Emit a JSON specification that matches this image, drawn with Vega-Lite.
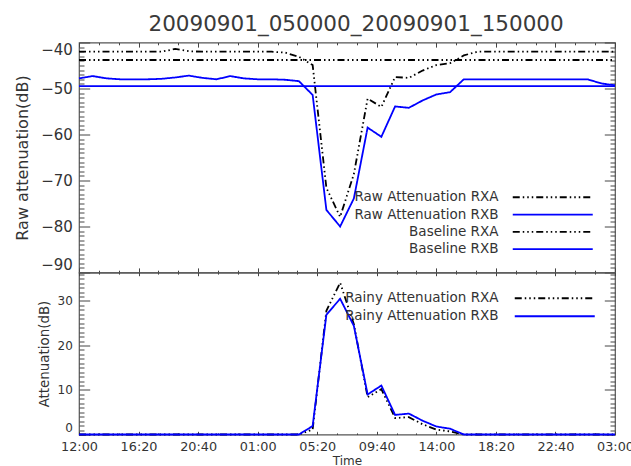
{
  "$schema": "https://vega.github.io/schema/vega-lite/v6.json",
  "background": "white",
  "padding": {"left": 14, "top": 13.5, "right": 10, "bottom": 0},
  "title": {"text": "20090901_050000_20090901_150000", "fontSize": 21.5, "font": "DejaVu Sans", "fontWeight": "normal", "color": "#3a3a3a", "anchor": "middle", "offset": 4, "dx": 32},
  "config": {
    "view": {"stroke": "#555", "strokeWidth": 1.2},
    "font": "DejaVu Sans",
    "axis": {"labelFont": "DejaVu Sans", "titleFont": "DejaVu Sans", "titleFontWeight": "normal", "labelColor": "#333", "titleColor": "#333", "domain": false, "grid": false, "tickColor": "#444", "tickWidth": 1, "labelOverlap": false},
    "legend": {"labelFont": "DejaVu Sans", "labelColor": "#333", "padding": 0}
  },
  "datasets": {
    "d": [
      {"t": "2009-08-31T12:00:00", "rawA": -42.0, "rawB": -47.8, "baseA": -43.8, "baseB": -49.5, "rainA": 0, "rainB": 0},
      {"t": "2009-08-31T13:00:00", "rawA": -42.0, "rawB": -47.3, "baseA": -43.8, "baseB": -49.5, "rainA": 0, "rainB": 0},
      {"t": "2009-08-31T14:00:00", "rawA": -42.0, "rawB": -47.8, "baseA": -43.8, "baseB": -49.5, "rainA": 0, "rainB": 0},
      {"t": "2009-08-31T15:00:00", "rawA": -42.0, "rawB": -48.0, "baseA": -43.8, "baseB": -49.5, "rainA": 0, "rainB": 0},
      {"t": "2009-08-31T16:00:00", "rawA": -42.0, "rawB": -48.0, "baseA": -43.8, "baseB": -49.5, "rainA": 0, "rainB": 0},
      {"t": "2009-08-31T17:00:00", "rawA": -42.0, "rawB": -48.0, "baseA": -43.8, "baseB": -49.5, "rainA": 0, "rainB": 0},
      {"t": "2009-08-31T18:00:00", "rawA": -42.0, "rawB": -47.9, "baseA": -43.8, "baseB": -49.5, "rainA": 0, "rainB": 0},
      {"t": "2009-08-31T19:00:00", "rawA": -41.4, "rawB": -47.6, "baseA": -43.8, "baseB": -49.5, "rainA": 0, "rainB": 0},
      {"t": "2009-08-31T20:00:00", "rawA": -41.9, "rawB": -47.2, "baseA": -43.8, "baseB": -49.5, "rainA": 0, "rainB": 0},
      {"t": "2009-08-31T21:00:00", "rawA": -42.0, "rawB": -47.7, "baseA": -43.8, "baseB": -49.5, "rainA": 0, "rainB": 0},
      {"t": "2009-08-31T22:00:00", "rawA": -42.0, "rawB": -48.0, "baseA": -43.8, "baseB": -49.5, "rainA": 0, "rainB": 0},
      {"t": "2009-08-31T23:00:00", "rawA": -42.0, "rawB": -47.3, "baseA": -43.8, "baseB": -49.5, "rainA": 0, "rainB": 0},
      {"t": "2009-09-01T00:00:00", "rawA": -42.0, "rawB": -47.8, "baseA": -43.8, "baseB": -49.5, "rainA": 0, "rainB": 0},
      {"t": "2009-09-01T01:00:00", "rawA": -42.0, "rawB": -48.0, "baseA": -43.8, "baseB": -49.5, "rainA": 0, "rainB": 0},
      {"t": "2009-09-01T02:00:00", "rawA": -42.0, "rawB": -48.0, "baseA": -43.8, "baseB": -49.5, "rainA": 0, "rainB": 0},
      {"t": "2009-09-01T03:00:00", "rawA": -42.2, "rawB": -48.1, "baseA": -43.8, "baseB": -49.5, "rainA": 0, "rainB": 0},
      {"t": "2009-09-01T04:00:00", "rawA": -43.1, "rawB": -48.4, "baseA": -43.8, "baseB": -49.5, "rainA": 0, "rainB": 0},
      {"t": "2009-09-01T05:00:00", "rawA": -44.9, "rawB": -51.4, "baseA": -43.8, "baseB": -49.5, "rainA": 1.1, "rainB": 1.9},
      {"t": "2009-09-01T06:00:00", "rawA": -71.6, "rawB": -76.4, "baseA": -43.8, "baseB": -49.5, "rainA": 27.8, "rainB": 26.9},
      {"t": "2009-09-01T07:00:00", "rawA": -77.9, "rawB": -80.0, "baseA": -43.8, "baseB": -49.5, "rainA": 34.1, "rainB": 30.5},
      {"t": "2009-09-01T08:00:00", "rawA": -68.6, "rawB": -73.9, "baseA": -43.8, "baseB": -49.5, "rainA": 24.8, "rainB": 24.4},
      {"t": "2009-09-01T09:00:00", "rawA": -52.2, "rawB": -58.5, "baseA": -43.8, "baseB": -49.5, "rainA": 8.4, "rainB": 9.0},
      {"t": "2009-09-01T10:00:00", "rawA": -54.0, "rawB": -60.5, "baseA": -43.8, "baseB": -49.5, "rainA": 10.2, "rainB": 11.0},
      {"t": "2009-09-01T11:00:00", "rawA": -47.5, "rawB": -53.9, "baseA": -43.8, "baseB": -49.5, "rainA": 3.7, "rainB": 4.4},
      {"t": "2009-09-01T12:00:00", "rawA": -47.7, "rawB": -54.2, "baseA": -43.8, "baseB": -49.5, "rainA": 3.9, "rainB": 4.7},
      {"t": "2009-09-01T13:00:00", "rawA": -46.1, "rawB": -52.6, "baseA": -43.8, "baseB": -49.5, "rainA": 2.3, "rainB": 3.1},
      {"t": "2009-09-01T14:00:00", "rawA": -44.9, "rawB": -51.3, "baseA": -43.8, "baseB": -49.5, "rainA": 1.1, "rainB": 1.8},
      {"t": "2009-09-01T15:00:00", "rawA": -44.5, "rawB": -50.8, "baseA": -43.8, "baseB": -49.5, "rainA": 0.7, "rainB": 1.3},
      {"t": "2009-09-01T16:00:00", "rawA": -42.8, "rawB": -48.0, "baseA": -43.8, "baseB": -49.5, "rainA": 0, "rainB": 0},
      {"t": "2009-09-01T17:00:00", "rawA": -42.0, "rawB": -48.0, "baseA": -43.8, "baseB": -49.5, "rainA": 0, "rainB": 0},
      {"t": "2009-09-01T18:00:00", "rawA": -42.0, "rawB": -48.0, "baseA": -43.8, "baseB": -49.5, "rainA": 0, "rainB": 0},
      {"t": "2009-09-01T19:00:00", "rawA": -42.0, "rawB": -48.0, "baseA": -43.8, "baseB": -49.5, "rainA": 0, "rainB": 0},
      {"t": "2009-09-01T20:00:00", "rawA": -42.0, "rawB": -48.0, "baseA": -43.8, "baseB": -49.5, "rainA": 0, "rainB": 0},
      {"t": "2009-09-01T21:00:00", "rawA": -42.0, "rawB": -48.0, "baseA": -43.8, "baseB": -49.5, "rainA": 0, "rainB": 0},
      {"t": "2009-09-01T22:00:00", "rawA": -42.0, "rawB": -48.0, "baseA": -43.8, "baseB": -49.5, "rainA": 0, "rainB": 0},
      {"t": "2009-09-01T23:00:00", "rawA": -42.0, "rawB": -48.0, "baseA": -43.8, "baseB": -49.5, "rainA": 0, "rainB": 0},
      {"t": "2009-09-02T00:00:00", "rawA": -42.0, "rawB": -48.0, "baseA": -43.8, "baseB": -49.5, "rainA": 0, "rainB": 0},
      {"t": "2009-09-02T01:00:00", "rawA": -42.0, "rawB": -48.0, "baseA": -43.8, "baseB": -49.5, "rainA": 0, "rainB": 0},
      {"t": "2009-09-02T02:00:00", "rawA": -42.0, "rawB": -48.9, "baseA": -43.8, "baseB": -49.5, "rainA": 0, "rainB": 0},
      {"t": "2009-09-02T03:00:00", "rawA": -42.0, "rawB": -49.3, "baseA": -43.8, "baseB": -49.5, "rainA": 0, "rainB": 0}
    ]
  },
  "spacing": 0,
  "bounds": "flush",
  "resolve": {"scale": {"color": "independent", "strokeDash": "independent"}, "legend": {"color": "independent", "strokeDash": "independent"}},
  "vconcat": [
    {
      "width": 536,
      "height": 230,
      "data": {"name": "d"},
      "layer": [
        {
          "transform": [{"fold": ["rawA", "rawB"], "as": ["series", "value"]}],
          "mark": {"type": "line", "strokeWidth": 1.8},
          "encoding": {
            "x": {"field": "t", "type": "temporal",
              "scale": {"domain": [{"year": 2009, "month": 8, "date": 31, "hours": 12}, {"year": 2009, "month": 9, "date": 2, "hours": 3}], "nice": false},
              "axis": {"orient": "bottom", "title": null, "labels": false,
                "values": [
                  {"year": 2009, "month": 8, "date": 31, "hours": 12, "minutes": 0, "seconds": 0},
                  {"year": 2009, "month": 8, "date": 31, "hours": 13, "minutes": 26, "seconds": 40},
                  {"year": 2009, "month": 8, "date": 31, "hours": 14, "minutes": 53, "seconds": 20},
                  {"year": 2009, "month": 8, "date": 31, "hours": 16, "minutes": 20, "seconds": 0},
                  {"year": 2009, "month": 8, "date": 31, "hours": 17, "minutes": 46, "seconds": 40},
                  {"year": 2009, "month": 8, "date": 31, "hours": 19, "minutes": 13, "seconds": 20},
                  {"year": 2009, "month": 8, "date": 31, "hours": 20, "minutes": 40, "seconds": 0},
                  {"year": 2009, "month": 8, "date": 31, "hours": 22, "minutes": 6, "seconds": 40},
                  {"year": 2009, "month": 8, "date": 31, "hours": 23, "minutes": 33, "seconds": 20},
                  {"year": 2009, "month": 9, "date": 1, "hours": 1, "minutes": 0, "seconds": 0},
                  {"year": 2009, "month": 9, "date": 1, "hours": 2, "minutes": 26, "seconds": 40},
                  {"year": 2009, "month": 9, "date": 1, "hours": 3, "minutes": 53, "seconds": 20},
                  {"year": 2009, "month": 9, "date": 1, "hours": 5, "minutes": 20, "seconds": 0},
                  {"year": 2009, "month": 9, "date": 1, "hours": 6, "minutes": 46, "seconds": 40},
                  {"year": 2009, "month": 9, "date": 1, "hours": 8, "minutes": 13, "seconds": 20},
                  {"year": 2009, "month": 9, "date": 1, "hours": 9, "minutes": 40, "seconds": 0},
                  {"year": 2009, "month": 9, "date": 1, "hours": 11, "minutes": 6, "seconds": 40},
                  {"year": 2009, "month": 9, "date": 1, "hours": 12, "minutes": 33, "seconds": 20},
                  {"year": 2009, "month": 9, "date": 1, "hours": 14, "minutes": 0, "seconds": 0},
                  {"year": 2009, "month": 9, "date": 1, "hours": 15, "minutes": 26, "seconds": 40},
                  {"year": 2009, "month": 9, "date": 1, "hours": 16, "minutes": 53, "seconds": 20},
                  {"year": 2009, "month": 9, "date": 1, "hours": 18, "minutes": 20, "seconds": 0},
                  {"year": 2009, "month": 9, "date": 1, "hours": 19, "minutes": 46, "seconds": 40},
                  {"year": 2009, "month": 9, "date": 1, "hours": 21, "minutes": 13, "seconds": 20},
                  {"year": 2009, "month": 9, "date": 1, "hours": 22, "minutes": 40, "seconds": 0},
                  {"year": 2009, "month": 9, "date": 2, "hours": 0, "minutes": 6, "seconds": 40},
                  {"year": 2009, "month": 9, "date": 2, "hours": 1, "minutes": 33, "seconds": 20},
                  {"year": 2009, "month": 9, "date": 2, "hours": 3, "minutes": 0, "seconds": 0}
                ],
                "tickSize": {"condition": {"test": "seconds(datum.value) === 0", "value": -4.6}, "value": -2.3}}},
            "y": {"field": "value", "type": "quantitative",
              "scale": {"domain": [-90, -40], "nice": false, "zero": false},
              "axis": {"orient": "left", "title": "Raw attenuation(dB)", "titleFontSize": 16, "titlePadding": 10, "labelFontSize": 15, "tickCount": 50, "labelFlush": true, "labelPadding": 17.3,
                "labelExpr": "datum.value % 10 === 0 ? datum.label : ''",
                "tickSize": {"condition": {"test": "datum.value % 10 === 0", "value": -10.7}, "value": -5}}},
            "color": {"field": "series", "type": "nominal",
              "scale": {"domain": ["rawA", "rawB", "baseA", "baseB"], "range": ["#000000", "#0000ff", "#000000", "#0000ff"]},
              "legend": {"orient": "none", "legendX": 467, "legendY": 148, "title": null, "symbolType": "M-8,0H8", "symbolSize": 100, "symbolStrokeWidth": 1.8, "labelAlign": "right", "labelOffset": -61, "labelFontSize": 13.5, "rowPadding": 2.3,
                "labelExpr": "datum.label == 'rawA' ? 'Raw Attenuation RXA' : datum.label == 'rawB' ? 'Raw Attenuation RXB' : datum.label == 'baseA' ? 'Baseline RXA' : 'Baseline RXB'"}},
            "strokeDash": {"field": "series", "type": "nominal",
              "scale": {"domain": ["rawA", "rawB", "baseA", "baseB"], "range": [[7, 3, 1.5, 3, 1.5, 3, 1.5, 3], [1, 0], [7, 3, 1.5, 3, 1.5, 3, 1.5, 3], [1, 0]]},
              "legend": {"orient": "none", "legendX": 467, "legendY": 148, "title": null, "symbolType": "M-8,0H8", "symbolSize": 100, "symbolStrokeWidth": 1.8, "labelAlign": "right", "labelOffset": -61, "labelFontSize": 13.5, "rowPadding": 2.3,
                "labelExpr": "datum.label == 'rawA' ? 'Raw Attenuation RXA' : datum.label == 'rawB' ? 'Raw Attenuation RXB' : datum.label == 'baseA' ? 'Baseline RXA' : 'Baseline RXB'"}}
          }
        },
        {
          "transform": [{"fold": ["baseA", "baseB"], "as": ["series", "value"]}],
          "mark": {"type": "line", "strokeWidth": 1.8},
          "encoding": {
            "x": {"field": "t", "type": "temporal",
              "axis": {"orient": "top", "title": null, "labels": false,
                "values": [
                  {"year": 2009, "month": 8, "date": 31, "hours": 12, "minutes": 0, "seconds": 0},
                  {"year": 2009, "month": 8, "date": 31, "hours": 13, "minutes": 26, "seconds": 40},
                  {"year": 2009, "month": 8, "date": 31, "hours": 14, "minutes": 53, "seconds": 20},
                  {"year": 2009, "month": 8, "date": 31, "hours": 16, "minutes": 20, "seconds": 0},
                  {"year": 2009, "month": 8, "date": 31, "hours": 17, "minutes": 46, "seconds": 40},
                  {"year": 2009, "month": 8, "date": 31, "hours": 19, "minutes": 13, "seconds": 20},
                  {"year": 2009, "month": 8, "date": 31, "hours": 20, "minutes": 40, "seconds": 0},
                  {"year": 2009, "month": 8, "date": 31, "hours": 22, "minutes": 6, "seconds": 40},
                  {"year": 2009, "month": 8, "date": 31, "hours": 23, "minutes": 33, "seconds": 20},
                  {"year": 2009, "month": 9, "date": 1, "hours": 1, "minutes": 0, "seconds": 0},
                  {"year": 2009, "month": 9, "date": 1, "hours": 2, "minutes": 26, "seconds": 40},
                  {"year": 2009, "month": 9, "date": 1, "hours": 3, "minutes": 53, "seconds": 20},
                  {"year": 2009, "month": 9, "date": 1, "hours": 5, "minutes": 20, "seconds": 0},
                  {"year": 2009, "month": 9, "date": 1, "hours": 6, "minutes": 46, "seconds": 40},
                  {"year": 2009, "month": 9, "date": 1, "hours": 8, "minutes": 13, "seconds": 20},
                  {"year": 2009, "month": 9, "date": 1, "hours": 9, "minutes": 40, "seconds": 0},
                  {"year": 2009, "month": 9, "date": 1, "hours": 11, "minutes": 6, "seconds": 40},
                  {"year": 2009, "month": 9, "date": 1, "hours": 12, "minutes": 33, "seconds": 20},
                  {"year": 2009, "month": 9, "date": 1, "hours": 14, "minutes": 0, "seconds": 0},
                  {"year": 2009, "month": 9, "date": 1, "hours": 15, "minutes": 26, "seconds": 40},
                  {"year": 2009, "month": 9, "date": 1, "hours": 16, "minutes": 53, "seconds": 20},
                  {"year": 2009, "month": 9, "date": 1, "hours": 18, "minutes": 20, "seconds": 0},
                  {"year": 2009, "month": 9, "date": 1, "hours": 19, "minutes": 46, "seconds": 40},
                  {"year": 2009, "month": 9, "date": 1, "hours": 21, "minutes": 13, "seconds": 20},
                  {"year": 2009, "month": 9, "date": 1, "hours": 22, "minutes": 40, "seconds": 0},
                  {"year": 2009, "month": 9, "date": 2, "hours": 0, "minutes": 6, "seconds": 40},
                  {"year": 2009, "month": 9, "date": 2, "hours": 1, "minutes": 33, "seconds": 20},
                  {"year": 2009, "month": 9, "date": 2, "hours": 3, "minutes": 0, "seconds": 0}
                ],
                "tickSize": {"condition": {"test": "seconds(datum.value) === 0", "value": -4.6}, "value": -2.3}}},
            "y": {"field": "value", "type": "quantitative",
              "axis": {"orient": "right", "title": null, "labels": false, "tickCount": 50,
                "tickSize": {"condition": {"test": "datum.value % 10 === 0", "value": -10.7}, "value": -5}}},
            "color": {"field": "series", "type": "nominal",
              "legend": {"orient": "none", "legendX": 467, "legendY": 148, "title": null, "symbolType": "M-8,0H8", "symbolSize": 100, "symbolStrokeWidth": 1.8, "labelAlign": "right", "labelOffset": -61, "labelFontSize": 13.5, "rowPadding": 2.3,
                "labelExpr": "datum.label == 'rawA' ? 'Raw Attenuation RXA' : datum.label == 'rawB' ? 'Raw Attenuation RXB' : datum.label == 'baseA' ? 'Baseline RXA' : 'Baseline RXB'"}},
            "strokeDash": {"field": "series", "type": "nominal",
              "legend": {"orient": "none", "legendX": 467, "legendY": 148, "title": null, "symbolType": "M-8,0H8", "symbolSize": 100, "symbolStrokeWidth": 1.8, "labelAlign": "right", "labelOffset": -61, "labelFontSize": 13.5, "rowPadding": 2.3,
                "labelExpr": "datum.label == 'rawA' ? 'Raw Attenuation RXA' : datum.label == 'rawB' ? 'Raw Attenuation RXB' : datum.label == 'baseA' ? 'Baseline RXA' : 'Baseline RXB'"}}
          }
        }
      ],
      "resolve": {"axis": {"x": "independent", "y": "independent"}}
    },
    {
      "width": 536,
      "height": 162,
      "data": {"name": "d"},
      "layer": [
        {
          "transform": [{"fold": ["rainA", "rainB"], "as": ["series", "value"]}],
          "mark": {"type": "line", "strokeWidth": 1.8},
          "encoding": {
            "x": {"field": "t", "type": "temporal",
              "scale": {"domain": [{"year": 2009, "month": 8, "date": 31, "hours": 12}, {"year": 2009, "month": 9, "date": 2, "hours": 3}], "nice": false},
              "axis": {"orient": "bottom", "title": "Time", "titleFontSize": 12, "titlePadding": 1, "labelFontSize": 12.8, "labelPadding": 9.2, "labelFlush": false,
                "labelExpr": "seconds(datum.value) === 0 ? timeFormat(datum.value, '%H:%M') : ''",
                "values": [
                  {"year": 2009, "month": 8, "date": 31, "hours": 12, "minutes": 0, "seconds": 0},
                  {"year": 2009, "month": 8, "date": 31, "hours": 13, "minutes": 26, "seconds": 40},
                  {"year": 2009, "month": 8, "date": 31, "hours": 14, "minutes": 53, "seconds": 20},
                  {"year": 2009, "month": 8, "date": 31, "hours": 16, "minutes": 20, "seconds": 0},
                  {"year": 2009, "month": 8, "date": 31, "hours": 17, "minutes": 46, "seconds": 40},
                  {"year": 2009, "month": 8, "date": 31, "hours": 19, "minutes": 13, "seconds": 20},
                  {"year": 2009, "month": 8, "date": 31, "hours": 20, "minutes": 40, "seconds": 0},
                  {"year": 2009, "month": 8, "date": 31, "hours": 22, "minutes": 6, "seconds": 40},
                  {"year": 2009, "month": 8, "date": 31, "hours": 23, "minutes": 33, "seconds": 20},
                  {"year": 2009, "month": 9, "date": 1, "hours": 1, "minutes": 0, "seconds": 0},
                  {"year": 2009, "month": 9, "date": 1, "hours": 2, "minutes": 26, "seconds": 40},
                  {"year": 2009, "month": 9, "date": 1, "hours": 3, "minutes": 53, "seconds": 20},
                  {"year": 2009, "month": 9, "date": 1, "hours": 5, "minutes": 20, "seconds": 0},
                  {"year": 2009, "month": 9, "date": 1, "hours": 6, "minutes": 46, "seconds": 40},
                  {"year": 2009, "month": 9, "date": 1, "hours": 8, "minutes": 13, "seconds": 20},
                  {"year": 2009, "month": 9, "date": 1, "hours": 9, "minutes": 40, "seconds": 0},
                  {"year": 2009, "month": 9, "date": 1, "hours": 11, "minutes": 6, "seconds": 40},
                  {"year": 2009, "month": 9, "date": 1, "hours": 12, "minutes": 33, "seconds": 20},
                  {"year": 2009, "month": 9, "date": 1, "hours": 14, "minutes": 0, "seconds": 0},
                  {"year": 2009, "month": 9, "date": 1, "hours": 15, "minutes": 26, "seconds": 40},
                  {"year": 2009, "month": 9, "date": 1, "hours": 16, "minutes": 53, "seconds": 20},
                  {"year": 2009, "month": 9, "date": 1, "hours": 18, "minutes": 20, "seconds": 0},
                  {"year": 2009, "month": 9, "date": 1, "hours": 19, "minutes": 46, "seconds": 40},
                  {"year": 2009, "month": 9, "date": 1, "hours": 21, "minutes": 13, "seconds": 20},
                  {"year": 2009, "month": 9, "date": 1, "hours": 22, "minutes": 40, "seconds": 0},
                  {"year": 2009, "month": 9, "date": 2, "hours": 0, "minutes": 6, "seconds": 40},
                  {"year": 2009, "month": 9, "date": 2, "hours": 1, "minutes": 33, "seconds": 20},
                  {"year": 2009, "month": 9, "date": 2, "hours": 3, "minutes": 0, "seconds": 0}
                ],
                "tickSize": {"condition": {"test": "seconds(datum.value) === 0", "value": -3.2}, "value": -1.6}}},
            "y": {"field": "value", "type": "quantitative",
              "scale": {"domain": [0, 36.4], "nice": false},
              "axis": {"orient": "left", "title": "Attenuation(dB)", "titleFontSize": 13.4, "titlePadding": 6, "labelFontSize": 12, "tickCount": 36, "labelFlush": true, "labelPadding": 17.3,
                "labelExpr": "datum.value % 10 === 0 ? datum.label : ''",
                "tickSize": {"condition": {"test": "datum.value % 10 === 0", "value": -10.7}, "value": -5}}},
            "color": {"field": "series", "type": "nominal",
              "scale": {"domain": ["rainA", "rainB"], "range": ["#000000", "#0000ff"]},
              "legend": {"orient": "none", "legendX": 469, "legendY": 19, "title": null, "symbolType": "M-8,0H8", "symbolSize": 100, "symbolStrokeWidth": 1.8, "labelAlign": "right", "labelOffset": -63, "labelFontSize": 13.5, "rowPadding": 3,
                "labelExpr": "datum.label == 'rainA' ? 'Rainy Attenuation RXA' : 'Rainy Attenuation RXB'"}},
            "strokeDash": {"field": "series", "type": "nominal",
              "scale": {"domain": ["rainA", "rainB"], "range": [[7, 3, 1.5, 3, 1.5, 3, 1.5, 3], [1, 0]]},
              "legend": {"orient": "none", "legendX": 469, "legendY": 19, "title": null, "symbolType": "M-8,0H8", "symbolSize": 100, "symbolStrokeWidth": 1.8, "labelAlign": "right", "labelOffset": -63, "labelFontSize": 13.5, "rowPadding": 3,
                "labelExpr": "datum.label == 'rainA' ? 'Rainy Attenuation RXA' : 'Rainy Attenuation RXB'"}}
          }
        },
        {
          "transform": [{"fold": ["rainB"], "as": ["series", "value"]}],
          "mark": {"type": "line", "strokeWidth": 2, "opacity": 0},
          "encoding": {
            "x": {"field": "t", "type": "temporal",
              "axis": {"orient": "top", "title": null, "labels": false,
                "values": [
                  {"year": 2009, "month": 8, "date": 31, "hours": 12, "minutes": 0, "seconds": 0},
                  {"year": 2009, "month": 8, "date": 31, "hours": 13, "minutes": 26, "seconds": 40},
                  {"year": 2009, "month": 8, "date": 31, "hours": 14, "minutes": 53, "seconds": 20},
                  {"year": 2009, "month": 8, "date": 31, "hours": 16, "minutes": 20, "seconds": 0},
                  {"year": 2009, "month": 8, "date": 31, "hours": 17, "minutes": 46, "seconds": 40},
                  {"year": 2009, "month": 8, "date": 31, "hours": 19, "minutes": 13, "seconds": 20},
                  {"year": 2009, "month": 8, "date": 31, "hours": 20, "minutes": 40, "seconds": 0},
                  {"year": 2009, "month": 8, "date": 31, "hours": 22, "minutes": 6, "seconds": 40},
                  {"year": 2009, "month": 8, "date": 31, "hours": 23, "minutes": 33, "seconds": 20},
                  {"year": 2009, "month": 9, "date": 1, "hours": 1, "minutes": 0, "seconds": 0},
                  {"year": 2009, "month": 9, "date": 1, "hours": 2, "minutes": 26, "seconds": 40},
                  {"year": 2009, "month": 9, "date": 1, "hours": 3, "minutes": 53, "seconds": 20},
                  {"year": 2009, "month": 9, "date": 1, "hours": 5, "minutes": 20, "seconds": 0},
                  {"year": 2009, "month": 9, "date": 1, "hours": 6, "minutes": 46, "seconds": 40},
                  {"year": 2009, "month": 9, "date": 1, "hours": 8, "minutes": 13, "seconds": 20},
                  {"year": 2009, "month": 9, "date": 1, "hours": 9, "minutes": 40, "seconds": 0},
                  {"year": 2009, "month": 9, "date": 1, "hours": 11, "minutes": 6, "seconds": 40},
                  {"year": 2009, "month": 9, "date": 1, "hours": 12, "minutes": 33, "seconds": 20},
                  {"year": 2009, "month": 9, "date": 1, "hours": 14, "minutes": 0, "seconds": 0},
                  {"year": 2009, "month": 9, "date": 1, "hours": 15, "minutes": 26, "seconds": 40},
                  {"year": 2009, "month": 9, "date": 1, "hours": 16, "minutes": 53, "seconds": 20},
                  {"year": 2009, "month": 9, "date": 1, "hours": 18, "minutes": 20, "seconds": 0},
                  {"year": 2009, "month": 9, "date": 1, "hours": 19, "minutes": 46, "seconds": 40},
                  {"year": 2009, "month": 9, "date": 1, "hours": 21, "minutes": 13, "seconds": 20},
                  {"year": 2009, "month": 9, "date": 1, "hours": 22, "minutes": 40, "seconds": 0},
                  {"year": 2009, "month": 9, "date": 2, "hours": 0, "minutes": 6, "seconds": 40},
                  {"year": 2009, "month": 9, "date": 2, "hours": 1, "minutes": 33, "seconds": 20},
                  {"year": 2009, "month": 9, "date": 2, "hours": 3, "minutes": 0, "seconds": 0}
                ],
                "tickSize": {"condition": {"test": "seconds(datum.value) === 0", "value": -3.2}, "value": -1.6}}},
            "y": {"field": "value", "type": "quantitative",
              "axis": {"orient": "right", "title": null, "labels": false, "tickCount": 36,
                "tickSize": {"condition": {"test": "datum.value % 10 === 0", "value": -10.7}, "value": -5}}}
          }
        }
      ],
      "resolve": {"axis": {"x": "independent", "y": "independent"}}
    }
  ]
}
